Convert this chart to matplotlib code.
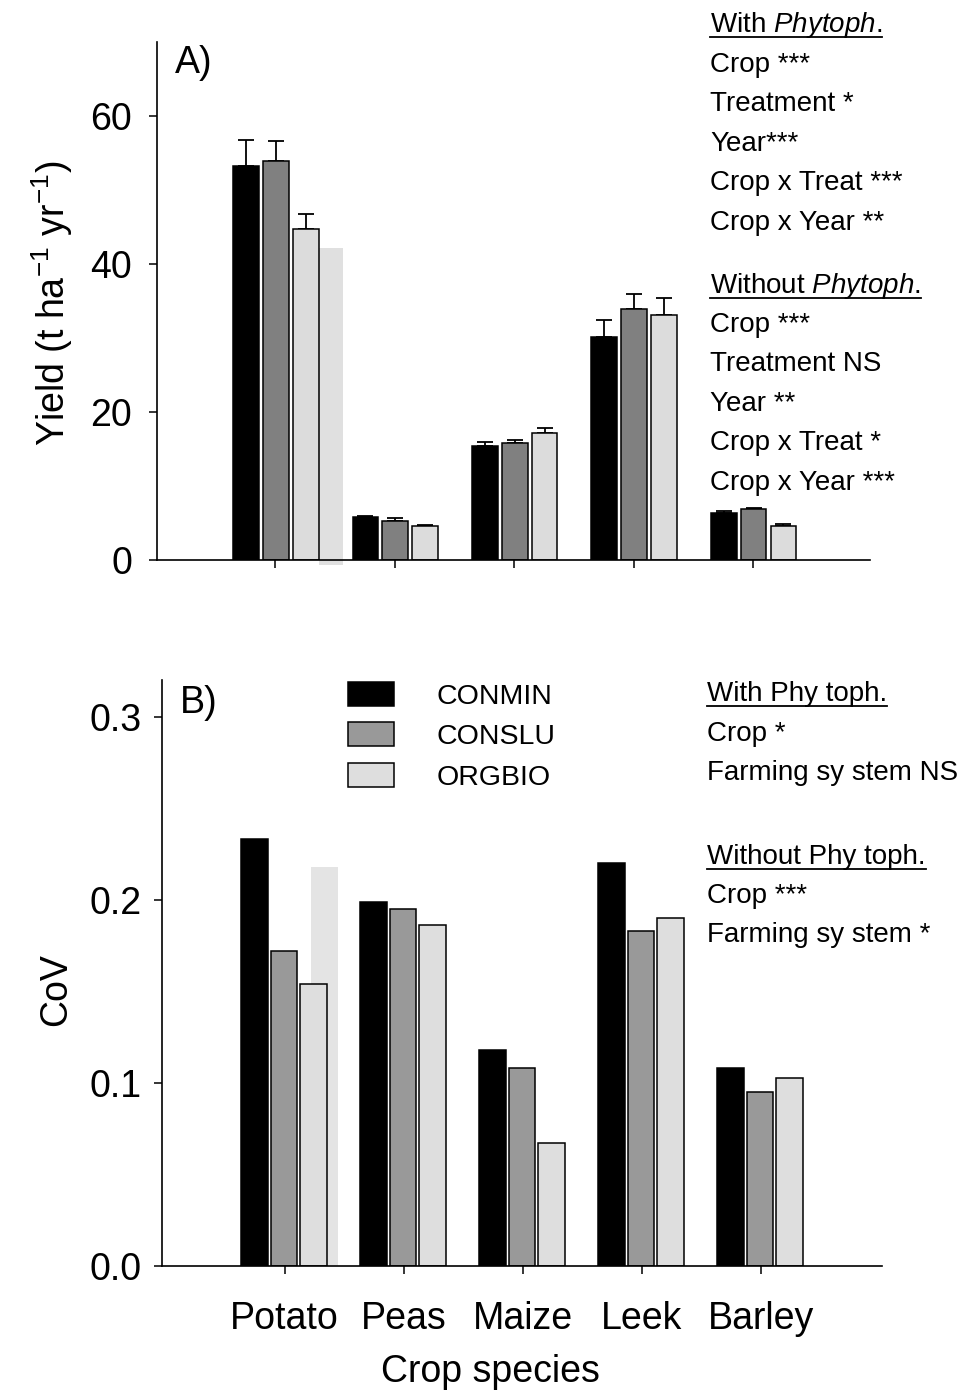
import numpy as np
import matplotlib
matplotlib.use('Agg')
import matplotlib.pyplot as plt
from matplotlib.lines import Line2D

plt.rcParams['font.family'] = ['Liberation Sans', 'DejaVu Sans']
plt.rcParams['mathtext.fontset'] = 'custom'
plt.rcParams['mathtext.rm'] = 'Liberation Sans'
plt.rcParams['mathtext.it'] = 'Liberation Sans:italic'
plt.rcParams['mathtext.default'] = 'regular'

crops = ['Potato', 'Peas', 'Maize', 'Leek', 'Barley']
systems = ['CONMIN', 'CONSLU', 'ORGBIO']

# panel A: yield (t/ha/yr) with upper SE
yield_conmin = [53.3, 5.8, 15.4, 30.1, 6.4]
yield_conslu = [53.9, 5.3, 15.8, 33.9, 6.85]
yield_orgbio = [44.7, 4.6, 17.2, 33.1, 4.6]
err_conmin = [3.5, 0.1, 0.6, 2.3, 0.2]
err_conslu = [2.7, 0.4, 0.4, 2.0, 0.15]
err_orgbio = [2.0, 0.15, 0.6, 2.3, 0.2]
potato_shadow_yield = 42.1   # faint extra potato bar

# panel B: coefficient of variation
cov_conmin = [0.233, 0.199, 0.118, 0.220, 0.108]
cov_conslu = [0.172, 0.195, 0.108, 0.183, 0.095]
cov_orgbio = [0.154, 0.186, 0.067, 0.190, 0.1025]
potato_shadow_cov = 0.218

stats_a_with = ['Crop ***', 'Treatment *', 'Year***', 'Crop x Treat ***', 'Crop x Year **']
stats_a_without = ['Crop ***', 'Treatment NS', 'Year **', 'Crop x Treat *', 'Crop x Year ***']
stats_b_with = ['Crop *', 'Farming sy stem NS']
stats_b_without = ['Crop ***', 'Farming sy stem *']

W, H = 961, 1392
fig = plt.figure(figsize=(W / 100, H / 100), dpi=100)


def px_axes(left, top, right, bottom):
    return fig.add_axes([left / W, 1 - bottom / H, (right - left) / W, (bottom - top) / H])


def fig_text(x, y, s, **kw):
    return fig.text(x / W, 1 - y / H, s, **kw)


x = np.arange(len(crops))

# ---- panel A ----
ax_a = px_axes(157, 42, 870, 560)
offs_a = [-0.245, 0.005, 0.255]
cols_a = ['black', '#808080', '#dcdcdc']
ax_a.bar(x[0] + 0.47, potato_shadow_yield + 0.7, width=0.2, bottom=-0.7,
         color='#e0e0e0', linewidth=0, zorder=1, clip_on=False)
for off, vals, errs, c in zip(offs_a, [yield_conmin, yield_conslu, yield_orgbio],
                              [err_conmin, err_conslu, err_orgbio], cols_a):
    ax_a.errorbar(x + off, vals, yerr=[np.zeros(len(vals)), errs], fmt='none',
                  ecolor='black', elinewidth=1.3, capsize=6, capthick=1.3, zorder=1)
    ax_a.bar(x + off, vals, width=0.215, color=c, edgecolor='black', linewidth=1.1, zorder=2)
ax_a.set_xlim(-0.99, 4.98)
ax_a.set_ylim(0, 70)
ax_a.set_xticks(x)
ax_a.set_xticklabels([])
ax_a.set_yticks([0, 20, 40, 60])

# ---- panel B ----
ax_b = px_axes(162, 680, 882, 1266)
offs_b = [-0.255, -0.005, 0.245]
cols_b = ['black', '#999999', '#dedede']
ax_b.bar(x[0] + 0.337, potato_shadow_cov, width=0.23, color='#e4e4e4',
         linewidth=0, zorder=1)
handles = []
for off, vals, c, lab in zip(offs_b, [cov_conmin, cov_conslu, cov_orgbio], cols_b, systems):
    b = ax_b.bar(x + off, vals, width=0.225, color=c, edgecolor='black',
                 linewidth=1.1, zorder=2, label=lab)
    handles.append(b)
ax_b.set_xlim(-1.03, 5.02)
ax_b.set_ylim(0, 0.32)
ax_b.set_xticks(x)
ax_b.set_xticklabels(crops, fontsize=27)
ax_b.set_yticks([0.0, 0.1, 0.2, 0.3])
ax_b.set_yticklabels(['0.0', '0.1', '0.2', '0.3'])
ax_b.set_xlabel('Crop species', fontsize=27)
ax_b.xaxis.set_label_coords((490 - 162) / 720, -(1354 - 1266) / 586)

ax_b.legend(handles=handles, loc='upper left',
            bbox_to_anchor=((348 - 162) / 720, (1266 - 682) / 586),
            frameon=False, fontsize=20.5, borderpad=0, borderaxespad=0,
            handlelength=1.6, handleheight=0.9, handletextpad=1.5, labelspacing=0.45)

for ax in (ax_a, ax_b):
    for side in ('top', 'right'):
        ax.spines[side].set_visible(False)
    for side in ('left', 'bottom'):
        ax.spines[side].set_linewidth(1.2)
    ax.tick_params(direction='out', length=6, width=1.1, labelsize=27)
ax_a.tick_params(axis='y', pad=12)
ax_b.tick_params(axis='y', pad=9)
ax_b.tick_params(axis='x', pad=19)

# axis titles and panel letters
fig_text(65, 303, 'Yield (t ha$^{-1}$ yr$^{-1}$)', fontsize=27, rotation=90,
         rotation_mode='anchor', ha='center', va='baseline')
fig_text(66, 990, 'CoV', fontsize=27, rotation=90,
         rotation_mode='anchor', ha='center', va='baseline')
fig_text(175, 73, 'A)', fontsize=27, va='baseline')
fig_text(180, 713, 'B)', fontsize=27, va='baseline')

# significance annotations
headers = []
headers.append(fig_text(710, 32, r'With $\mathit{Phytoph.}$', fontsize=20, va='baseline'))
for i, s in enumerate(stats_a_with):
    fig_text(710, 72 + i * 39.4, s, fontsize=20, va='baseline')
headers.append(fig_text(710, 293, r'Without $\mathit{Phytoph.}$', fontsize=20, va='baseline'))
for i, s in enumerate(stats_a_without):
    fig_text(710, 332 + i * 39.4, s, fontsize=20, va='baseline')

headers.append(fig_text(707, 701, 'With Phy toph.', fontsize=20, va='baseline'))
for i, s in enumerate(stats_b_with):
    fig_text(707, 741 + i * 39.5, s, fontsize=20, va='baseline')
headers.append(fig_text(707, 864, 'Without Phy toph.', fontsize=20, va='baseline'))
for i, s in enumerate(stats_b_without):
    fig_text(707, 903 + i * 39.5, s, fontsize=20, va='baseline')

# underline the headers
fig.canvas.draw()
rend = fig.canvas.get_renderer()
for t in headers:
    bb = t.get_window_extent(rend)
    base = t.get_position()[1] * H
    yline = (base - 5) / H
    fig.add_artist(Line2D([bb.x0 / W, bb.x1 / W], [yline, yline],
                          transform=fig.transFigure, color='black', linewidth=1.3))

fig.savefig('out.png', dpi=100)
